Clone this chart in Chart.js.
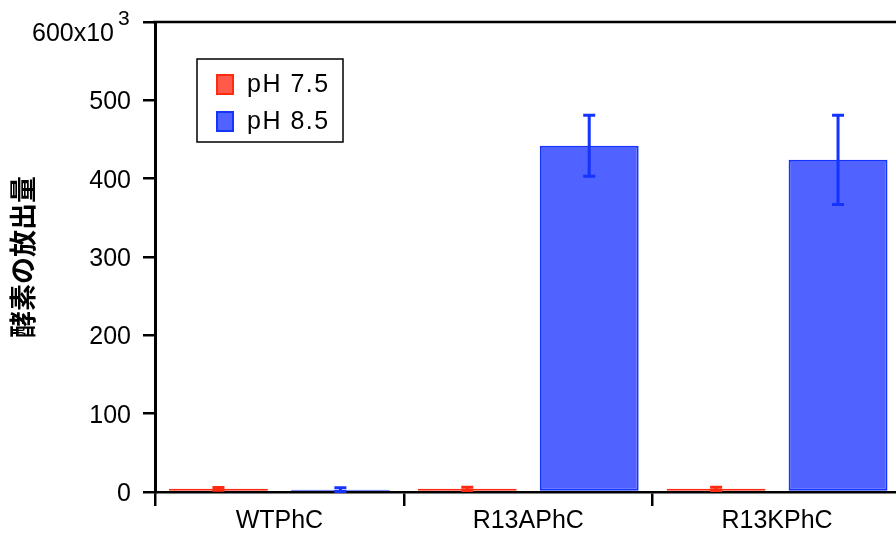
<!DOCTYPE html>
<html>
<head>
<meta charset="utf-8">
<script src="https://cdn.jsdelivr.net/npm/chart.js@4"></script>
<style>
  html, body { margin: 0; padding: 0; background: #fff; overflow: hidden; }
  #wrap { width: 910px; height: 538px; }
</style>
</head>
<body>
<div id="wrap"><canvas id="chart" width="910" height="538"></canvas></div>
<script>
// values are in units of 10^3
const categories = ['WTPhC', 'R13APhC', 'R13KPhC'];
const seriesLabels = ['pH 7.5', 'pH 8.5'];
const ph75 = [4, 4, 4];
const ph75Err = [1.8, 2.2, 2.2];
const ph85 = [3, 442, 424];
const ph85Err = [2.5, 39, 57];
const yTicks = [0, 100, 200, 300, 400, 500, 600];
const yTitle = '酵素の放出量';

const FONT = "'Liberation Sans', Arial, Helvetica, sans-serif";
const RED = '#ff2a12', RED_FILL = '#ff5a4a';
const BLUE = '#1533ff', BLUE_FILL = '#5062ff';

// error bars, frame line, legend box, axis title and the 600x10^3 label
const extras = {
  id: 'extras',
  afterDatasetsDraw(chart) {
    const ctx = chart.ctx;
    const y = chart.scales.y;
    chart.data.datasets.forEach((ds, i) => {
      const meta = chart.getDatasetMeta(i);
      meta.data.forEach((bar, j) => {
        const v = ds.data[j], e = ds.errors[j];
        const top = y.getPixelForValue(v + e);
        const bot = y.getPixelForValue(Math.max(v - e, 0));
        ctx.save();
        ctx.strokeStyle = ds.borderColor;
        ctx.lineWidth = 3;
        ctx.beginPath();
        ctx.moveTo(bar.x, top); ctx.lineTo(bar.x, bot);
        ctx.moveTo(bar.x - 6, top); ctx.lineTo(bar.x + 6, top);
        ctx.moveTo(bar.x - 6, bot); ctx.lineTo(bar.x + 6, bot);
        ctx.stroke();
        ctx.restore();
      });
    });
  },
  afterDraw(chart) {
    const ctx = chart.ctx;
    const a = chart.chartArea;
    const y = chart.scales.y;
    ctx.save();

    // top frame line
    ctx.strokeStyle = '#000';
    ctx.lineWidth = 2.5;
    ctx.beginPath();
    ctx.moveTo(a.left - 2, a.top);
    ctx.lineTo(chart.width, a.top);
    ctx.stroke();

    // top tick label with superscript
    const p600 = y.getPixelForValue(600);
    ctx.fillStyle = '#000';
    ctx.textBaseline = 'alphabetic';
    ctx.textAlign = 'right';
    ctx.font = '25px ' + FONT;
    ctx.fillText('600x10', a.left - 41, p600 + 19);
    ctx.textAlign = 'left';
    ctx.font = '21px ' + FONT;
    ctx.fillText('3', a.left - 37, p600 + 3);

    // legend
    const lx = a.left + 42, ly = a.top + 37;
    ctx.lineWidth = 1.5;
    ctx.strokeStyle = '#000';
    ctx.strokeRect(lx, ly, 146, 83);
    ctx.font = '25px ' + FONT;
    ctx.textBaseline = 'middle';
    ctx.letterSpacing = '1.5px';
    chart.data.datasets.forEach((ds, i) => {
      const cy = ly + 25 + i * 37;
      ctx.fillStyle = ds.backgroundColor;
      ctx.fillRect(lx + 20, cy - 9, 16, 19);
      ctx.strokeStyle = ds.borderColor;
      ctx.lineWidth = 2;
      ctx.strokeRect(lx + 20, cy - 9, 16, 19);
      ctx.fillStyle = '#000';
      ctx.textAlign = 'left';
      ctx.fillText(ds.label, lx + 50, cy + 1);
    });
    ctx.letterSpacing = '0px';

    // y axis title
    ctx.translate(23, (a.top + a.bottom) / 2);
    ctx.rotate(-Math.PI / 2);
    ctx.textAlign = 'center';
    ctx.textBaseline = 'middle';
    ctx.font = "bold 27px 'Noto Sans CJK JP', sans-serif";
    ctx.fillStyle = '#000';
    ctx.fillText(yTitle, 0, 0);
    ctx.restore();
  }
};

const chart = new Chart(document.getElementById('chart').getContext('2d'), {
  type: 'bar',
  data: {
    labels: categories,
    datasets: [
      {
        label: seriesLabels[0],
        data: ph75,
        errors: ph75Err,
        backgroundColor: RED_FILL,
        borderColor: RED,
        borderWidth: 2,
        borderSkipped: false
      },
      {
        label: seriesLabels[1],
        data: ph85,
        errors: ph85Err,
        backgroundColor: BLUE_FILL,
        borderColor: BLUE,
        borderWidth: 2,
        borderSkipped: false
      }
    ]
  },
  options: {
    responsive: false,
    animation: false,
    devicePixelRatio: 1,
    categoryPercentage: 0.98,
    barPercentage: 0.811,
    layout: { padding: { top: 22, left: 0, right: 8.5, bottom: 0 } },
    scales: {
      x: {
        afterFit: s => { s.height = 46; },
        grid: {
          display: true,
          offset: true,
          drawOnChartArea: false,
          drawTicks: true,
          tickLength: 14,
          color: '#000',
          lineWidth: 2.5
        },
        border: { display: true, color: '#000', width: 2.5 },
        ticks: {
          color: '#000',
          padding: 0,
          font: { family: FONT, size: 25 }
        }
      },
      y: {
        min: 0,
        max: 600,
        afterFit: s => { s.width = 155; s.paddingTop = 0; s.paddingBottom = 0; },
        afterBuildTicks: s => { s.ticks = yTicks.map(v => ({ value: v })); },
        grid: {
          display: true,
          drawOnChartArea: false,
          drawTicks: true,
          tickLength: 12,
          color: '#000',
          lineWidth: 2.5
        },
        border: { display: true, color: '#000', width: 3 },
        ticks: {
          color: '#000',
          padding: 12,
          labelOffset: 2,
          font: { family: FONT, size: 25 },
          callback: v => (v === 600 ? '' : String(v))
        }
      }
    },
    plugins: {
      legend: { display: false },
      tooltip: { enabled: false }
    }
  },
  plugins: [extras]
});
</script>
</body>
</html>
